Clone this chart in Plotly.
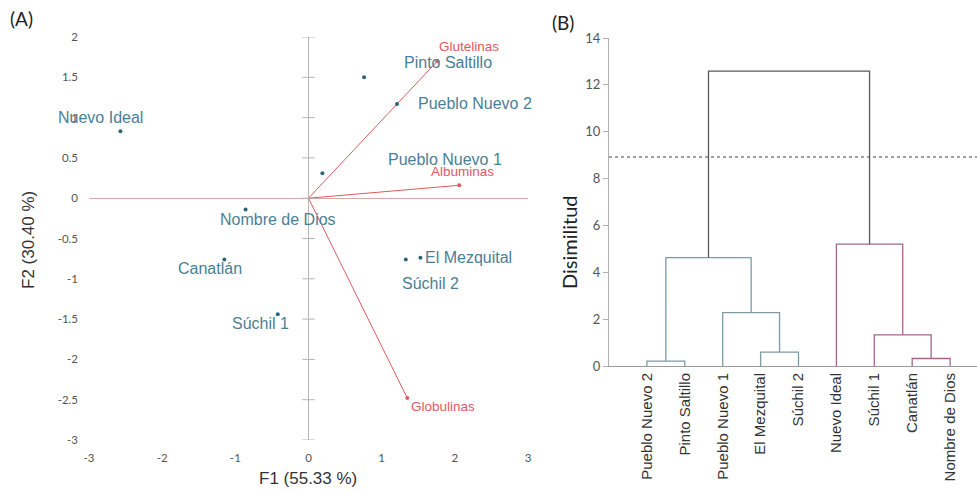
import plotly.graph_objects as go

# ---------------- (A) PCA biplot data ----------------
genotypes = ["Nuevo Ideal", "Nombre de Dios", "Canatlán", "Súchil 1",
             "Pueblo Nuevo 1", "Pinto Saltillo", "Pueblo Nuevo 2",
             "El Mezquital", "Súchil 2"]
f1_scores = [-2.57, -0.86, -1.15, -0.42, 0.19, 0.76, 1.21, 1.53, 1.33]
f2_scores = [0.83, -0.14, -0.76, -1.44, 0.31, 1.50, 1.17, -0.74, -0.76]

variables = ["Glutelinas", "Albuminas", "Globulinas"]
f1_loadings = [1.76, 2.06, 1.35]
f2_loadings = [1.70, 0.16, -2.48]

pca_x_ticks = [-3, -2, -1, 0, 1, 2, 3]
pca_x_ticktext = ["-3", "-2", "-1", "0", "1", "2", "3"]
pca_y_ticks = [2, 1.5, 1, 0.5, 0, -0.5, -1, -1.5, -2, -2.5, -3]
pca_y_ticktext = ["2", "1.5", "1", "0.5", "0", "-0.5", "-1", "-1.5", "-2", "-2.5", "-3"]

# ---------------- (B) dendrogram data ----------------
leaves = ["Pueblo Nuevo 2", "Pinto Saltillo", "Pueblo Nuevo 1", "El Mezquital",
          "Súchil 2", "Nuevo Ideal", "Súchil 1", "Canatlán", "Nombre de Dios"]
# nested merges: (left, right, height)
cluster_1 = (("Pueblo Nuevo 2", "Pinto Saltillo", 0.21),
             ("Pueblo Nuevo 1", ("El Mezquital", "Súchil 2", 0.59), 2.28), 4.63)
cluster_2 = ("Nuevo Ideal",
             ("Súchil 1", ("Canatlán", "Nombre de Dios", 0.32), 1.33), 5.20)
root_height = 12.59
truncation_level = 8.92
dend_y_ticks = [0, 2, 4, 6, 8, 10, 12, 14]

# ---------------- styles ----------------
TEAL_PT = "#2b6577"
TEAL_TXT = "#4a7f95"
RED = "#e05a5f"
GRAY_TXT = "#555555"
TICK_FONT = dict(family="Lato, Open Sans, sans-serif", size=11.5, color=GRAY_TXT)
ARIAL = "Liberation Sans, Arial, sans-serif"
CALIB = "Lato, Open Sans, sans-serif"

# label offsets (px) relative to each point
label_shift = {
    "Nuevo Ideal": (-20, 14), "Nombre de Dios": (32, -10), "Canatlán": (-14, -9),
    "Súchil 1": (-17, -9), "Pueblo Nuevo 1": (123, 14), "Pinto Saltillo": (84, 15),
    "Pueblo Nuevo 2": (78, 0), "El Mezquital": (48, 0), "Súchil 2": (25, -24),
}
var_shift = {"Glutelinas": (32, 15), "Albuminas": (3, 14), "Globulinas": (36, -8)}

fig = go.Figure()

# vector lines from the origin
for name, vx, vy in zip(variables, f1_loadings, f2_loadings):
    fig.add_trace(go.Scatter(x=[0, vx], y=[0, vy], mode="lines",
                             line=dict(color=RED, width=1), hoverinfo="skip",
                             xaxis="x", yaxis="y", showlegend=False))
fig.add_trace(go.Scatter(x=f1_loadings, y=f2_loadings, mode="markers",
                         marker=dict(color=RED, size=4), xaxis="x", yaxis="y",
                         showlegend=False))

# tick marks on the vertical zero axis
fig.add_trace(go.Scatter(x=[0] * len(pca_y_ticks), y=pca_y_ticks, mode="markers",
                         marker=dict(symbol="line-ew", size=9,
                                     line=dict(color="#b5b5b5", width=1)),
                         hoverinfo="skip", xaxis="x", yaxis="y", showlegend=False))

# observation points
fig.add_trace(go.Scatter(x=f1_scores, y=f2_scores, mode="markers",
                         marker=dict(color=TEAL_PT, size=4), xaxis="x", yaxis="y",
                         showlegend=False))

annotations = []
for name, sx, sy in zip(genotypes, f1_scores, f2_scores):
    dx, dy = label_shift[name]
    annotations.append(dict(x=sx, y=sy, xref="x", yref="y", text=name,
                            showarrow=False, xshift=dx, yshift=dy,
                            xanchor="center", yanchor="middle",
                            font=dict(family=ARIAL, size=16, color=TEAL_TXT)))
for name, vx, vy in zip(variables, f1_loadings, f2_loadings):
    dx, dy = var_shift[name]
    annotations.append(dict(x=vx, y=vy, xref="x", yref="y", text=name,
                            showarrow=False, xshift=dx, yshift=dy,
                            xanchor="center", yanchor="middle",
                            font=dict(family=ARIAL, size=13.5, color=RED)))

# ---------------- dendrogram ----------------
def draw(node, color):
    if isinstance(node, str):
        return leaves.index(node) + 1, 0.0
    left, right, h = node
    lx, ly = draw(left, color)
    rx, ry = draw(right, color)
    fig.add_trace(go.Scatter(x=[lx, lx, rx, rx], y=[ly, h, h, ry], mode="lines",
                             line=dict(color=color, width=1.3), hoverinfo="skip",
                             xaxis="x2", yaxis="y2", showlegend=False))
    return (lx + rx) / 2, h

c1x, c1h = draw(cluster_1, "#7d9aa6")
c2x, c2h = draw(cluster_2, "#a4668f")
fig.add_trace(go.Scatter(x=[c1x, c1x, c2x, c2x], y=[c1h, root_height, root_height, c2h],
                         mode="lines", line=dict(color="#5a5a5a", width=1.3),
                         hoverinfo="skip", xaxis="x2", yaxis="y2", showlegend=False))
x2_max = 9.71
fig.add_trace(go.Scatter(x=[0, x2_max], y=[truncation_level] * 2, mode="lines",
                         line=dict(color="#444444", width=1, dash="dot"),
                         hoverinfo="skip", xaxis="x2", yaxis="y2", showlegend=False))

# titles and panel tags (paper coordinates, centred on the given point)
def paper_text(px, py, text, font, angle=0):
    return dict(x=px / 977, y=1 - py / 491, xref="paper", yref="paper", text=text,
                showarrow=False, xanchor="center", yanchor="middle",
                textangle=angle, font=font)

annotations += [
    paper_text(308, 478, "F1 (55.33 %)", dict(family=ARIAL, size=17, color="#333333")),
    paper_text(28, 240, "F2 (30.40 %)", dict(family=ARIAL, size=17, color="#333333"), -90),
    paper_text(569, 242, "Disimilitud", dict(family=CALIB, size=20, color="#222222"), -90),
    paper_text(21, 19, "(A)", dict(family=CALIB, size=19, color="#222222")),
    paper_text(563, 22, "(B)", dict(family=CALIB, size=19, color="#222222")),
]

fig.update_layout(
    width=977, height=491, margin=dict(l=0, r=0, t=0, b=0, autoexpand=False),
    paper_bgcolor="white", plot_bgcolor="white", showlegend=False,
    annotations=annotations,
    xaxis=dict(domain=[89 / 977, 528 / 977], range=[-3, 3], tickvals=pca_x_ticks,
               ticktext=pca_x_ticktext, showgrid=False, showline=False, ticks="",
               zeroline=True, zerolinecolor="#b5b5b5", zerolinewidth=1,
               tickfont=TICK_FONT, ticklabelstandoff=9, anchor="y", automargin=False),
    yaxis=dict(domain=[51 / 491, 454 / 491], range=[-3, 2], tickvals=pca_y_ticks,
               ticktext=pca_y_ticktext, showgrid=False, showline=False, ticks="",
               zeroline=True, zerolinecolor="#d3aaaa", zerolinewidth=1,
               tickfont=TICK_FONT, ticklabelstandoff=10, anchor="x", automargin=False),
    xaxis2=dict(domain=[609 / 977, 1.0], range=[0, x2_max],
                tickvals=list(range(1, len(leaves) + 1)), ticktext=leaves,
                tickangle=-90, showgrid=False, showline=True, linecolor="#9a9a9a",
                linewidth=1, ticks="", zeroline=False, anchor="y2", automargin=False,
                tickfont=dict(family=ARIAL, size=15, color="#333333")),
    yaxis2=dict(domain=[125 / 491, 453 / 491], range=[0, 14], tickvals=dend_y_ticks,
                showgrid=False, showline=True, linecolor="#b0b0b0", linewidth=1,
                ticks="outside", ticklen=5, tickcolor="#b0b0b0", zeroline=False,
                tickfont=dict(family=CALIB, size=13, color=GRAY_TXT),
                anchor="x2", automargin=False),
)

fig.write_html("out.html")
